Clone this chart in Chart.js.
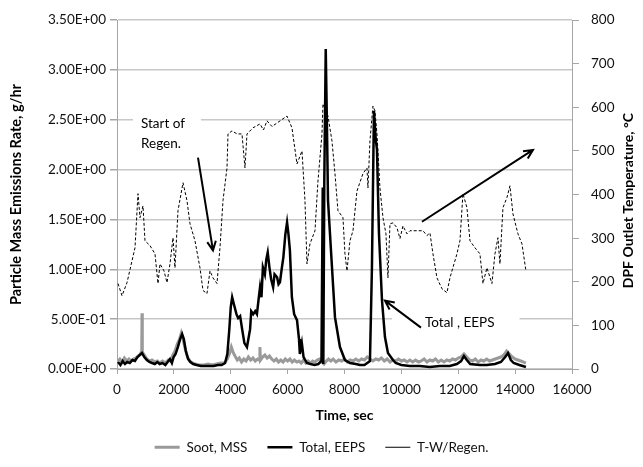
<!DOCTYPE html>
<html>
<head>
<meta charset="utf-8">
<script src="https://cdn.jsdelivr.net/npm/chart.js@4.4.0/dist/chart.umd.min.js"></script>
<style>
html, body { margin: 0; padding: 0; background: #fff; }
#wrap { width: 643px; height: 467px; }
</style>
</head>
<body>
<div id="wrap"><canvas id="pmChart" width="643" height="467"></canvas></div>
<script>
// Soot, MSS (g/hr) vs time (sec)
var sootTime = [
    35, 100, 180, 260, 340, 420, 500, 580, 660, 740,
    820, 870, 880, 890, 960, 1050, 1140, 1230, 1330, 1420,
    1500, 1600, 1700, 1800, 1880, 1960, 2040, 2120, 2200, 2260,
    2320, 2400, 2480, 2560, 2650, 2750, 2900, 3050, 3200, 3350,
    3500, 3650, 3780, 3880, 3950, 4020, 4080, 4150, 4230, 4300,
    4380, 4460, 4540, 4620, 4700, 4780, 4860, 4940, 5000, 5025,
    5045, 5120, 5200, 5280, 5360, 5440, 5520, 5600, 5680, 5760,
    5840, 5920, 6000, 6080, 6160, 6240, 6320, 6400, 6480, 6560,
    6640, 6720, 6800, 6880, 6960, 7040, 7120, 7200, 7280, 7360,
    7440, 7520, 7600, 7700, 7800, 7900, 8000, 8100, 8200, 8300,
    8400, 8500, 8600, 8700, 8800, 8900, 9000, 9100, 9200, 9300,
    9400, 9500, 9600, 9700, 9800, 9900, 10000, 10100, 10200, 10300,
    10400, 10500, 10600, 10700, 10800, 10900, 11000, 11100, 11200, 11300,
    11400, 11500, 11600, 11700, 11800, 11900, 12000, 12100, 12200, 12300,
    12400, 12500, 12600, 12700, 12800, 12900, 13000, 13100, 13200, 13300,
    13400, 13500, 13600, 13700, 13800, 13900, 14000, 14100, 14200, 14300,
    14380
];
var sootMss = [
    0.08, 0.10, 0.07, 0.11, 0.08, 0.10, 0.08, 0.10, 0.11, 0.13,
    0.15, 0.18, 0.56, 0.17, 0.14, 0.10, 0.08, 0.09, 0.07, 0.08,
    0.06, 0.08, 0.06, 0.09, 0.08, 0.14, 0.18, 0.25, 0.30, 0.36,
    0.30, 0.20, 0.12, 0.08, 0.06, 0.05, 0.04, 0.04, 0.05, 0.04,
    0.05, 0.06, 0.06, 0.10, 0.15, 0.22, 0.17, 0.13, 0.09, 0.11,
    0.07, 0.10, 0.08, 0.12, 0.09, 0.11, 0.08, 0.10, 0.09, 0.22,
    0.09, 0.12, 0.14, 0.11, 0.13, 0.10, 0.08, 0.10, 0.07, 0.09,
    0.07, 0.10, 0.08, 0.10, 0.07, 0.09, 0.07, 0.08, 0.06, 0.09,
    0.06, 0.08, 0.06, 0.08, 0.07, 0.09, 0.10, 0.07, 0.05, 0.08,
    0.10, 0.08, 0.10, 0.07, 0.09, 0.08, 0.10, 0.07, 0.09, 0.08,
    0.10, 0.08, 0.10, 0.09, 0.12, 0.10, 0.08, 0.10, 0.09, 0.11,
    0.08, 0.10, 0.07, 0.09, 0.08, 0.10, 0.08, 0.09, 0.07, 0.09,
    0.07, 0.09, 0.07, 0.08, 0.10, 0.07, 0.09, 0.08, 0.10, 0.07,
    0.09, 0.07, 0.09, 0.08, 0.10, 0.09, 0.11, 0.12, 0.15, 0.12,
    0.09, 0.08, 0.10, 0.07, 0.09, 0.08, 0.10, 0.08, 0.09, 0.10,
    0.11, 0.12, 0.14, 0.18, 0.15, 0.12, 0.10, 0.09, 0.08, 0.07,
    0.06
];

// Total, EEPS (g/hr) vs time (sec)
var eepsTime = [
    35, 120, 200, 280, 360, 450, 540, 630, 720, 800,
    880, 960, 1050, 1140, 1230, 1330, 1420, 1500, 1600, 1700,
    1860, 1930, 1990, 2060, 2140, 2220, 2290, 2350, 2420, 2500,
    2580, 2680, 2800, 2950, 3100, 3250, 3400, 3550, 3680, 3800,
    3880, 3950, 4000, 4050, 4120, 4200, 4260, 4330, 4400, 4480,
    4570, 4620, 4680, 4720, 4790, 4860, 4920, 4980, 5030, 5080,
    5130, 5200, 5250, 5300, 5360, 5420, 5490, 5540, 5630, 5680,
    5730, 5790, 5850, 5920, 5980, 6030, 6080, 6150, 6230, 6330,
    6400, 6430, 6500, 6560, 6680, 6800, 6950, 7080, 7190, 7235,
    7255, 7290, 7340, 7380, 7420, 7560, 7665, 7840, 8016, 8192,
    8400, 8544, 8700, 8895, 8965, 9036, 9100, 9142, 9212, 9318,
    9423, 9528, 9704, 9800, 10000, 10300, 10650, 11000, 11350, 11700,
    11950, 12100, 12200, 12300, 12420, 12760, 13000, 13290, 13500, 13650,
    13750, 13850, 13950, 14150, 14380
];
var totalEeps = [
    0.07, 0.04, 0.08, 0.05, 0.07, 0.06, 0.09, 0.08, 0.12, 0.14,
    0.16, 0.12, 0.09, 0.07, 0.06, 0.05, 0.07, 0.05, 0.06, 0.04,
    0.10, 0.06, 0.12, 0.15, 0.22, 0.30, 0.35, 0.30, 0.18, 0.10,
    0.07, 0.05, 0.04, 0.03, 0.03, 0.03, 0.03, 0.04, 0.04, 0.06,
    0.15, 0.40, 0.62, 0.72, 0.64, 0.55, 0.51, 0.53, 0.40, 0.26,
    0.22, 0.30, 0.40, 0.58, 0.55, 0.58, 0.55, 0.70, 0.82, 0.72,
    1.02, 0.95, 1.10, 1.17, 1.02, 0.90, 0.82, 0.95, 0.92, 0.85,
    0.87, 1.00, 1.12, 1.35, 1.47, 1.35, 1.19, 0.72, 0.55, 0.49,
    0.30, 0.15, 0.26, 0.12, 0.06, 0.05, 0.04, 0.05, 0.08, 1.82,
    0.05, 1.90, 3.21, 2.50, 1.69, 1.02, 0.52, 0.22, 0.09, 0.06,
    0.05, 0.04, 0.04, 0.08, 1.02, 2.59, 2.30, 2.20, 1.36, 0.69,
    0.32, 0.16, 0.09, 0.06, 0.04, 0.03, 0.03, 0.02, 0.03, 0.03,
    0.05, 0.08, 0.13, 0.09, 0.05, 0.04, 0.04, 0.05, 0.07, 0.12,
    0.16, 0.09, 0.06, 0.04, 0.02
];

// T-W/Regen., DPF outlet temperature (deg C) vs time (sec)
var tempTime = [
    35, 176, 352, 527, 633, 738, 809, 914, 984, 1160,
    1336, 1442, 1512, 1653, 1758, 1863, 1969, 2039, 2145, 2321,
    2461, 2567, 2742, 2918, 3024, 3164, 3270, 3375, 3516, 3621,
    3727, 3868, 3903, 4043, 4219, 4395, 4500, 4571, 4782, 5028,
    5150, 5274, 5450, 5626, 5800, 5977, 6153, 6329, 6505, 6610,
    6680, 6786, 6962, 7067, 7208, 7243, 7419, 7559, 7665, 7770,
    7946, 8016, 8087, 8192, 8298, 8438, 8649, 8790, 8825, 8895,
    9001, 9071, 9142, 9247, 9353, 9458, 9528, 9599, 9704, 9845,
    9950, 10056, 10196, 10302, 10548, 10759, 10900, 11005, 11111, 11251,
    11427, 11603, 11708, 11954, 12060, 12165, 12306, 12412, 12587, 12763,
    12869, 13009, 13185, 13291, 13396, 13466, 13572, 13712, 13818, 13923,
    14099, 14240, 14380
];
var tempRegen = [
    196, 168, 198, 248, 278, 402, 347, 374, 294, 283,
    264, 196, 241, 225, 198, 241, 301, 232, 363, 427,
    386, 333, 294, 232, 180, 173, 225, 209, 196, 278,
    386, 461, 539, 546, 539, 539, 461, 539, 553, 562,
    548, 569, 556, 564, 572, 580, 553, 470, 500, 386,
    241, 287, 317, 431, 539, 608, 580, 523, 448, 363,
    347, 264, 225, 294, 317, 408, 448, 461, 415, 523,
    603, 592, 539, 415, 347, 310, 209, 333, 335, 324,
    299, 328, 310, 317, 317, 317, 306, 312, 264, 209,
    184, 175, 209, 264, 294, 402, 370, 294, 278, 264,
    196, 232, 196, 264, 301, 241, 370, 393, 420, 356,
    310, 287, 225
];

var xTicksStep = 2000;
var yTicksStep = 0.5;
var y1TicksStep = 100;

// annotation anchors, in data units (sec, g/hr)
var regenText = ['Start of', 'Regen.'];
var regenTextAt = [844, 2.46];
var regenArrow = [[2848, 2.12], [3375, 1.19]];
var eepsText = 'Total , EEPS';
var eepsTextAt = [10829, 0.466];
var eepsArrow = [[10689, 0.415], [9423, 0.686]];
var trendArrow = [[10724, 1.477], [14627, 2.198]];

(function () {
    var FONT = 'Lato, "Open Sans", sans-serif';
    var AXIS = '#a6a6a6';

    function zip(xs, ys) {
        return xs.map(function (x, i) {
            return { x: x, y: ys[i] };
        });
    }

    function sci(v) {
        if (Math.abs(v) < 1e-12) {
            return '0.00E+00';
        }
        var exp = Math.floor(Math.log10(Math.abs(v)) + 1e-9);
        var man = v / Math.pow(10, exp);
        return man.toFixed(2) + 'E' + (exp < 0 ? '-' : '+') + String(Math.abs(exp)).padStart(2, '0');
    }

    function arrow(ctx, x1, y1, x2, y2) {
        var a = Math.atan2(y2 - y1, x2 - x1);
        var h = 10;
        ctx.beginPath();
        ctx.moveTo(x1, y1);
        ctx.lineTo(x2, y2);
        ctx.moveTo(x2 - h * Math.cos(a - 0.45), y2 - h * Math.sin(a - 0.45));
        ctx.lineTo(x2, y2);
        ctx.lineTo(x2 - h * Math.cos(a + 0.45), y2 - h * Math.sin(a + 0.45));
        ctx.stroke();
    }

    var notesPlugin = {
        id: 'notes',
        afterDatasetsDraw: function (chart) {
            var ctx = chart.ctx;
            var xs = chart.scales.x;
            var ys = chart.scales.y;
            function px(p) {
                return [xs.getPixelForValue(p[0]), ys.getPixelForValue(p[1])];
            }

            ctx.save();
            ctx.font = '13.5px ' + FONT;
            ctx.textBaseline = 'middle';
            ctx.textAlign = 'left';

            // start of regen label
            var r = px(regenTextAt);
            var w = Math.max(ctx.measureText(regenText[0]).width, ctx.measureText(regenText[1]).width);
            ctx.fillStyle = '#fff';
            ctx.fillRect(r[0] - 8, r[1] - 12, w + 24, 44);
            ctx.fillStyle = '#000';
            ctx.fillText(regenText[0], r[0], r[1]);
            ctx.fillText(regenText[1], r[0], r[1] + 20);

            // total, eeps label
            var e = px(eepsTextAt);
            var ew = ctx.measureText(eepsText).width;
            ctx.fillStyle = '#fff';
            ctx.fillRect(e[0] - 33, e[1] - 12, ew + 58, 24);
            ctx.fillStyle = '#000';
            ctx.fillText(eepsText, e[0], e[1]);

            ctx.strokeStyle = '#000';
            ctx.lineWidth = 2;
            [regenArrow, eepsArrow, trendArrow].forEach(function (a) {
                var p1 = px(a[0]);
                var p2 = px(a[1]);
                arrow(ctx, p1[0], p1[1], p2[0], p2[1]);
            });
            ctx.restore();
        },
        afterDraw: function (chart) {
            // right axis title reads bottom-to-top, like the reference
            var ctx = chart.ctx;
            var area = chart.chartArea;
            ctx.save();
            ctx.font = 'bold 14px ' + FONT;
            ctx.fillStyle = '#000';
            ctx.textAlign = 'center';
            ctx.textBaseline = 'middle';
            ctx.translate(628, (area.top + area.bottom) / 2 + 6);
            ctx.rotate(-Math.PI / 2);
            ctx.fillText('DPF Outlet Temperature, \u00B0C', 0, 0);
            ctx.restore();
        }
    };

    var canvas = document.getElementById('pmChart');

    new Chart(canvas, {
        type: 'line',
        data: {
            datasets: [
                {
                    label: 'Soot, MSS',
                    data: zip(sootTime, sootMss),
                    yAxisID: 'y',
                    borderColor: '#9a9a9a',
                    borderWidth: 3,
                    pointRadius: 0,
                    pointStyle: 'line',
                    order: 3
                },
                {
                    label: 'Total, EEPS',
                    data: zip(eepsTime, totalEeps),
                    yAxisID: 'y',
                    borderColor: '#000',
                    borderWidth: 2.5,
                    pointRadius: 0,
                    pointStyle: 'line',
                    order: 2
                },
                {
                    label: 'T-W/Regen.',
                    data: zip(tempTime, tempRegen),
                    yAxisID: 'y1',
                    borderColor: '#000',
                    borderWidth: 1,
                    borderDash: [3, 2],
                    pointRadius: 0,
                    pointStyle: 'line',
                    order: 1
                }
            ]
        },
        options: {
            responsive: false,
            animation: false,
            layout: {
                padding: { left: 0, right: 0, top: 19, bottom: 3 }
            },
            scales: {
                x: {
                    type: 'linear',
                    min: 0,
                    max: 16000,
                    afterFit: function (scale) {
                        scale.height = 51.5;
                    },
                    ticks: {
                        stepSize: xTicksStep,
                        color: '#111',
                        font: { family: FONT, size: 13.5 },
                        padding: 8,
                        maxRotation: 0,
                        callback: function (v) {
                            return String(v);
                        }
                    },
                    grid: {
                        drawOnChartArea: false,
                        tickLength: 5,
                        tickColor: AXIS
                    },
                    border: { color: AXIS },
                    title: {
                        display: true,
                        text: 'Time, sec',
                        color: '#000',
                        font: { family: FONT, size: 14, weight: 'bold' },
                        padding: { top: 0, bottom: -3 }
                    }
                },
                y: {
                    type: 'linear',
                    position: 'left',
                    min: 0,
                    max: 3.5,
                    afterFit: function (scale) {
                        scale.width = 117;
                    },
                    ticks: {
                        stepSize: yTicksStep,
                        color: '#111',
                        font: { family: FONT, size: 13.5 },
                        padding: 4,
                        callback: function (v) {
                            return sci(v);
                        }
                    },
                    grid: {
                        color: '#c8c8c8',
                        lineWidth: 1.5,
                        tickLength: 7,
                        tickColor: AXIS
                    },
                    border: { color: AXIS },
                    title: {
                        display: true,
                        text: 'Particle Mass Emissions Rate, g/hr',
                        color: '#000',
                        font: { family: FONT, size: 14.5, weight: 'bold' },
                        padding: { top: 8, bottom: 0 }
                    }
                },
                y1: {
                    type: 'linear',
                    position: 'right',
                    min: 0,
                    max: 800,
                    afterFit: function (scale) {
                        scale.width = 71;
                    },
                    ticks: {
                        stepSize: y1TicksStep,
                        color: '#111',
                        font: { family: FONT, size: 13.5 },
                        padding: 12
                    },
                    grid: {
                        drawOnChartArea: false,
                        tickLength: 7,
                        tickColor: AXIS
                    },
                    border: { color: AXIS }
                }
            },
            plugins: {
                legend: {
                    position: 'bottom',
                    labels: {
                        usePointStyle: true,
                        pointStyleWidth: 25,
                        boxHeight: 10,
                        padding: 20,
                        color: '#111',
                        font: { family: FONT, size: 13.5 },
                        sort: function (a, b) {
                            return a.datasetIndex - b.datasetIndex;
                        }
                    }
                },
                tooltip: { enabled: false }
            }
        },
        plugins: [notesPlugin]
    });
})();
</script>
</body>
</html>
